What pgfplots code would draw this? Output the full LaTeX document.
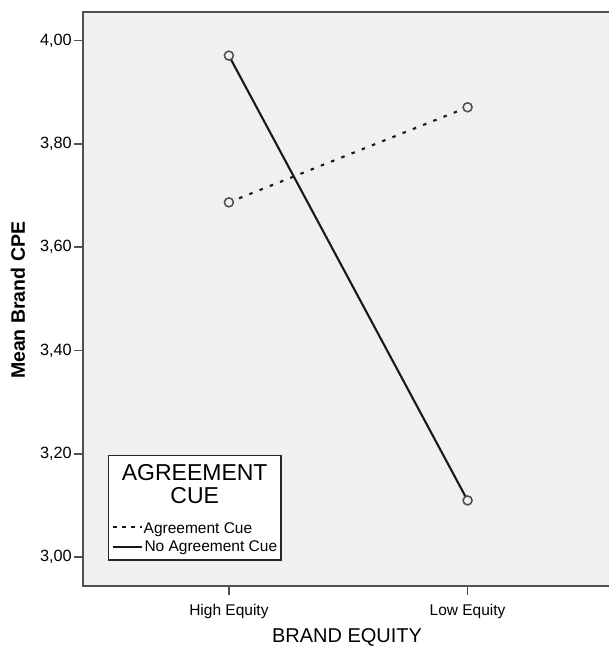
\documentclass[border=0pt]{standalone}
\usepackage{pgfplots}
\pgfplotsset{compat=1.18}
\usepackage{fontspec}
\setmainfont{Liberation Sans}
\definecolor{bg}{HTML}{F0F0F0}
\definecolor{axgray}{HTML}{505050}
\begin{document}
\begin{tikzpicture}
\begin{axis}[
  at={(0,0)}, anchor=south west,
  scale only axis, width=527.5pt, height=574pt,
  xmin=-0.61, xmax=1.6, ymin=2.945, ymax=4.056,
  xtick={0,1}, xticklabels={High Equity, Low Equity},
  ytick={3,3.2,3.4,3.6,3.8,4},
  xtick pos=left, ytick pos=left,
  tick align=outside, major tick length=9pt,
  axis line style={axgray, line width=2pt},
  every tick/.style={axgray, line width=1.6pt},
  axis background/.style={fill=bg},
  yticklabel style={/pgf/number format/fixed, /pgf/number format/fixed zerofill, /pgf/number format/precision=2, /pgf/number format/use comma, /pgf/number format/assume math mode=true, font=\fontsize{16.3}{18}\selectfont, xshift=1pt},
  xticklabel style={font=\fontsize{15.5}{18}\selectfont, yshift=-6pt},
  xlabel={BRAND EQUITY}, ylabel={Mean Brand CPE},
  xlabel style={at={([yshift=-56.5pt]axis description cs:0.5,0)}, anchor=base, font=\fontsize{20}{24}\selectfont},
  ylabel style={at={([xshift=-58.3pt]axis description cs:0,0.497)}, anchor=base, font=\bfseries\fontsize{19.5}{24}\selectfont},
]
\addplot[color=black!90, line width=2.1pt, dash pattern=on 3.5pt off 7.5pt, mark=*, mark size=4.5pt, mark options={solid, fill=bg, draw=black!70, line width=1.5pt}] coordinates {(0,3.687) (1,3.871)};
\addplot[color=black!90, line width=2.1pt, mark=*, mark size=4.5pt, mark options={solid, fill=bg, draw=black!70, line width=1.5pt}] coordinates {(0,3.971) (1,3.110)};
\end{axis}
\draw[black!85, line width=1.3pt, fill=white] (25pt,25.7pt) rectangle (197.7pt,130pt);
\node[anchor=base, inner sep=0pt, font=\fontsize{23}{24}\selectfont] at (111.4pt,105pt) {AGREEMENT};
\node[anchor=base, inner sep=0pt, font=\fontsize{23}{24}\selectfont] at (111.4pt,82.4pt) {CUE};
\node[anchor=base west, inner sep=0pt, font=\fontsize{15.5}{18}\selectfont] at (60.2pt,52.4pt) {Agreement Cue};
\node[anchor=base west, inner sep=0pt, font=\fontsize{15.5}{18}\selectfont] at (61pt,34pt) {No Agreement Cue};
\draw[black!90, line width=2.2pt, dash pattern=on 4pt off 5pt] (30pt,59pt) -- (58.4pt,59pt);
\draw[black!90, line width=2pt] (30pt,39pt) -- (58.4pt,39pt);
\pgfresetboundingbox
\path[use as bounding box] (-83.3pt,-60.3pt) rectangle (525.7pt,585.7pt);
\end{tikzpicture}
\end{document}
